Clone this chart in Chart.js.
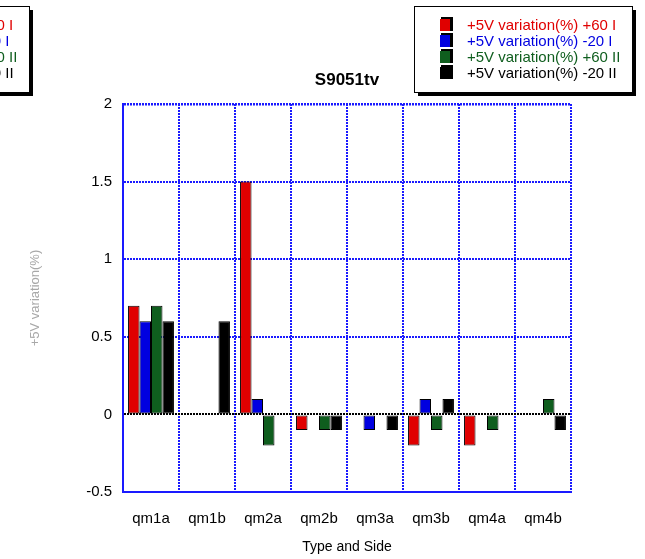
<!DOCTYPE html>
<html>
<head>
<meta charset="utf-8">
<script src="https://cdn.jsdelivr.net/npm/chart.js@4"></script>
<style>
  html, body { margin: 0; padding: 0; background: #fff; }
  #wrap { width: 645px; height: 559px; }
</style>
</head>
<body>
<div id="wrap"><canvas id="chart" width="645" height="559"></canvas></div>
<script>
const categorias = ['qm1a', 'qm1b', 'qm2a', 'qm2b', 'qm3a', 'qm3b', 'qm4a', 'qm4b'];
const serieNombres = ['+5V variation(%) +60 I', '+5V variation(%) -20 I', '+5V variation(%) +60 II', '+5V variation(%) -20 II'];
const v60I  = [0.7, null, 1.5, -0.1, null, -0.2, -0.2, null];
const v20I  = [0.6, null, 0.1, null, -0.1, 0.1, null, null];
const v60II = [0.7, null, -0.2, -0.1, null, -0.1, -0.1, 0.1];
const v20II = [0.6, 0.6, null, -0.1, -0.1, 0.1, null, -0.1];
const yTicks = [-0.5, 0, 0.5, 1, 1.5, 2];

const colores = ['#e00000', '#0000e0', '#0f5e1e', '#000000'];
const textoColores = ['#e00000', '#0000e0', '#0f5e1e', '#000000'];
const FONT = 'Liberation Sans, Arial, sans-serif';
const AZUL = '#1a1aff';

// Leyenda con sombra, dibujada a mano (se dibuja dos veces como en la imagen)
const leyendaPlugin = {
    id: 'leyenda',
    afterDraw(chart) {
        const ctx = chart.ctx;
        const dibujar = (x0) => {
            const y0 = 6, w = 218, h = 86;
            ctx.save();
            ctx.fillStyle = '#000';
            ctx.fillRect(x0 + 4, y0 + 4, w, h);
            ctx.fillStyle = '#fff';
            ctx.fillRect(x0, y0, w, h);
            ctx.strokeStyle = '#000';
            ctx.lineWidth = 1;
            ctx.strokeRect(x0 + 0.5, y0 + 0.5, w, h);
            ctx.font = '15px ' + FONT;
            ctx.textBaseline = 'middle';
            chart.data.datasets.forEach((ds, i) => {
                const yy = 25 + i * 16;
                ctx.fillStyle = '#000';
                ctx.fillRect(x0 + 27, yy - 8, 12, 14);
                ctx.fillStyle = ds.backgroundColor;
                ctx.fillRect(x0 + 26, yy - 6, 10, 12);
                ctx.fillStyle = textoColores[i];
                ctx.fillText(ds.label, x0 + 53, yy + 1);
            });
            ctx.restore();
        };
        dibujar(414);
        dibujar(-189);

        // Título centrado sobre el área del gráfico
        const a = chart.chartArea;
        ctx.save();
        ctx.font = 'bold 17px ' + FONT;
        ctx.fillStyle = '#000';
        ctx.textAlign = 'center';
        ctx.textBaseline = 'middle';
        ctx.fillText('S9051tv', (a.left + a.right) / 2, 80);
        ctx.restore();
    }
};

const datasets = [v60I, v20I, v60II, v20II].map((d, i) => ({
    label: serieNombres[i],
    data: d,
    backgroundColor: colores[i],
    borderColor: '#000',
    borderWidth: 1,
    borderSkipped: false,
    categoryPercentage: 0.82,
    barPercentage: 1.0
}));

new Chart(document.getElementById('chart'), {
    type: 'bar',
    data: { labels: categorias, datasets: datasets },
    options: {
        responsive: false,
        animation: false,
        layout: { padding: { left: 22, top: 104, right: 74, bottom: 0 } },
        plugins: {
            legend: { display: false },
            title: { display: false },
            tooltip: { enabled: false }
        },
        scales: {
            x: {
                afterFit(scale) { scale.height = 67; },
                grid: {
                    offset: true,
                    color: AZUL,
                    lineWidth: 2,
                    drawTicks: false
                },
                border: { display: true, color: AZUL, width: 2, dash: [2, 1] },
                ticks: { color: '#000', font: { family: FONT, size: 15 }, padding: 18 },
                title: {
                    display: true,
                    text: 'Type and Side',
                    color: '#000',
                    font: { family: FONT, size: 14 },
                    padding: { top: 0, bottom: 3 }
                }
            },
            y: {
                min: -0.5,
                max: 2,
                afterFit(scale) { scale.width = 101; },
                afterBuildTicks(scale) { scale.ticks = yTicks.map(v => ({ value: v })); },
                grid: {
                    color: c => (c.tick && c.tick.value === 0) ? '#000' : AZUL,
                    lineWidth: c => (c.tick && c.tick.value === 2) ? 2.5 : 2,
                    drawTicks: false
                },
                border: { display: true, color: AZUL, width: 2, dash: [2, 1] },
                ticks: {
                    color: '#000',
                    font: { family: FONT, size: 15 },
                    padding: 11,
                    callback: v => String(v)
                },
                title: {
                    display: true,
                    text: '+5V variation(%)',
                    color: '#a8a8a8',
                    font: { family: FONT, size: 13 },
                    padding: { top: 6, bottom: 0 }
                }
            }
        }
    },
    plugins: [leyendaPlugin]
});
</script>
</body>
</html>
